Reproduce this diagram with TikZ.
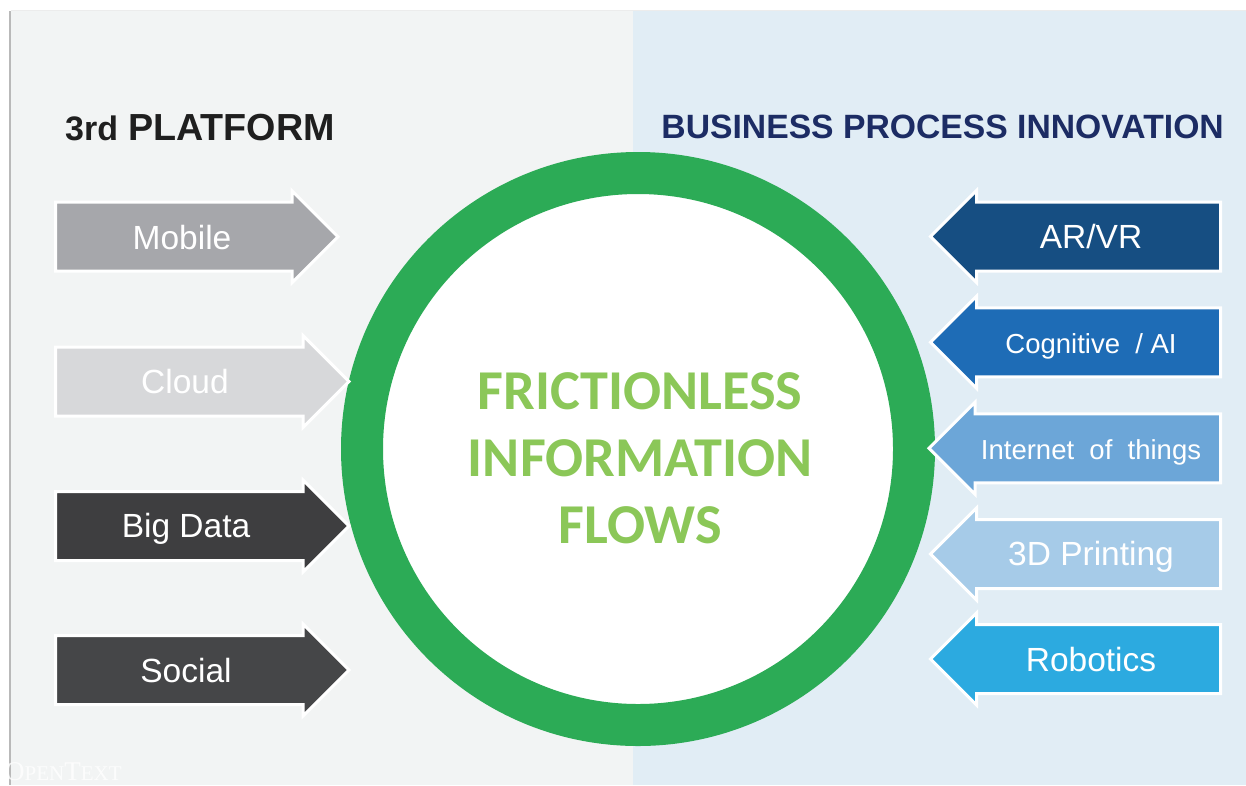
\documentclass[tikz,border=0pt]{standalone}
\usepackage{fontspec}
\setmainfont{Liberation Sans}
\newfontfamily\brandfont{Liberation Serif}
\newfontfamily\flowfont{Carlito}
\usetikzlibrary{shapes.arrows}
\definecolor{leftbg}{RGB}{242,244,244}
\definecolor{rightbg}{RGB}{225,237,245}
\definecolor{ringgreen}{RGB}{44,171,86}
\definecolor{textgreen}{RGB}{139,199,88}
\definecolor{headblue}{RGB}{28,44,100}
\definecolor{mobilegray}{RGB}{166,167,171}
\definecolor{cloudgray}{RGB}{215,216,218}
\definecolor{bigdark}{RGB}{62,62,64}
\definecolor{socialdark}{RGB}{69,70,72}
\definecolor{arblue}{RGB}{22,78,130}
\definecolor{aiblue}{RGB}{30,108,182}
\definecolor{iotblue}{RGB}{108,166,216}
\definecolor{printblue}{RGB}{166,203,232}
\definecolor{robotblue}{RGB}{44,170,224}
\tikzset{
    flowarrow/.style={single arrow, draw=white, line width=3pt, text height=33pt, text depth=33pt, text width=0pt,
        single arrow head extend=11.5pt, single arrow tip angle=90, single arrow head indent=0pt,
        inner sep=0pt, outer sep=0pt, anchor=tail},
    leftarrow/.style={flowarrow},
    rightarrow/.style={flowarrow, shape border rotate=180},
    arrowlabel/.style={text=white, font=\fontsize{33.5}{33.5}\selectfont, inner sep=0pt, anchor=base},
    smalllabel/.style={arrowlabel, font=\fontsize{27.5}{27.5}\selectfont},
    flowtext/.style={text=textgreen, inner sep=0pt, font=\flowfont\bfseries\fontsize{56.3}{56.3}\selectfont},
}
\begin{document}
\begin{tikzpicture}[x=1pt,y=-1pt]
    \useasboundingbox (0,0) rectangle (1246,785);
    \fill[white] (0,0) rectangle (1246,785);
    \fill[leftbg] (11,11) rectangle (633,785);
    \fill[rightbg] (633,11) rectangle (1246,785);
    \draw[gray!15, line width=1pt] (11,10.5) -- (1246,10.5);
    \draw[gray!55, line width=2.5pt] (10,11) -- (10,785);

    \node[font=\bfseries\fontsize{34}{34}\selectfont, text=black!88, anchor=west, inner sep=0pt] (platform) at (65,128) {3rd\hspace{10pt}\fontsize{37.7}{37.7}\selectfont PLATFORM};
    \node[font=\bfseries\fontsize{33.7}{33.7}\selectfont, text=headblue, anchor=east, inner sep=0pt] (innovation) at (1224,127) {BUSINESS PROCESS INNOVATION};

    \node[circle, draw=ringgreen, fill=white, line width=42pt, minimum size=552pt, inner sep=0pt] (ring) at (638,449) {};
    \node[flowtext] (frictionless) at (640,391) {FRICTIONLESS};
    \node[flowtext] (information) at (640,458) {INFORMATION};
    \node[flowtext] (flows) at (640,525) {FLOWS};

    % left arrows
    \node[leftarrow, fill=mobilegray, minimum height=282.5pt] (mobile) at (55.5,236.7) {};
    \node[leftarrow, fill=cloudgray, minimum height=293.5pt] (cloud) at (55.5,381.5) {};
    \node[leftarrow, fill=bigdark, minimum height=293.5pt] (bigdata) at (55.5,526) {};
    \node[leftarrow, fill=socialdark, minimum height=293.5pt] (social) at (55.5,670) {};

    % right arrows
    \node[rightarrow, fill=arblue, minimum height=290pt] (arvr) at (1220.5,236.5) {};
    \node[rightarrow, fill=aiblue, minimum height=290pt] (cognitive) at (1220.5,342.3) {};
    \node[rightarrow, fill=iotblue, minimum height=291.5pt] (iot) at (1220.5,448.3) {};
    \node[rightarrow, fill=printblue, minimum height=290pt] (printing) at (1220.5,554) {};
    \node[rightarrow, fill=robotblue, minimum height=290pt] (robotics) at (1220.5,659) {};

    \node[arrowlabel] (mobiletext) at (182,249) {Mobile};
    \node[arrowlabel] (cloudtext) at (185,393) {Cloud};
    \node[arrowlabel] (bigdatatext) at (186,537) {Big Data};
    \node[arrowlabel] (socialtext) at (186,682) {Social};
    \node[arrowlabel] (arvrtext) at (1091,248) {AR/VR};
    \node[smalllabel] (cognitivetext) at (1091,353) {Cognitive\ \ / AI};
    \node[smalllabel] (iottext) at (1091,459) {Internet\ \ of\ \ things};
    \node[arrowlabel] (printingtext) at (1091,565) {3D Printing};
    \node[arrowlabel] (roboticstext) at (1091,671) {Robotics};

    \node[font=\brandfont\fontsize{27}{27}\selectfont, text=white, text opacity=0.8, anchor=west, inner sep=0pt] (brand) at (5,772) {O\fontsize{21}{21}\selectfont PEN\fontsize{27}{27}\selectfont T\fontsize{21}{21}\selectfont EXT};
\end{tikzpicture}
\end{document}
